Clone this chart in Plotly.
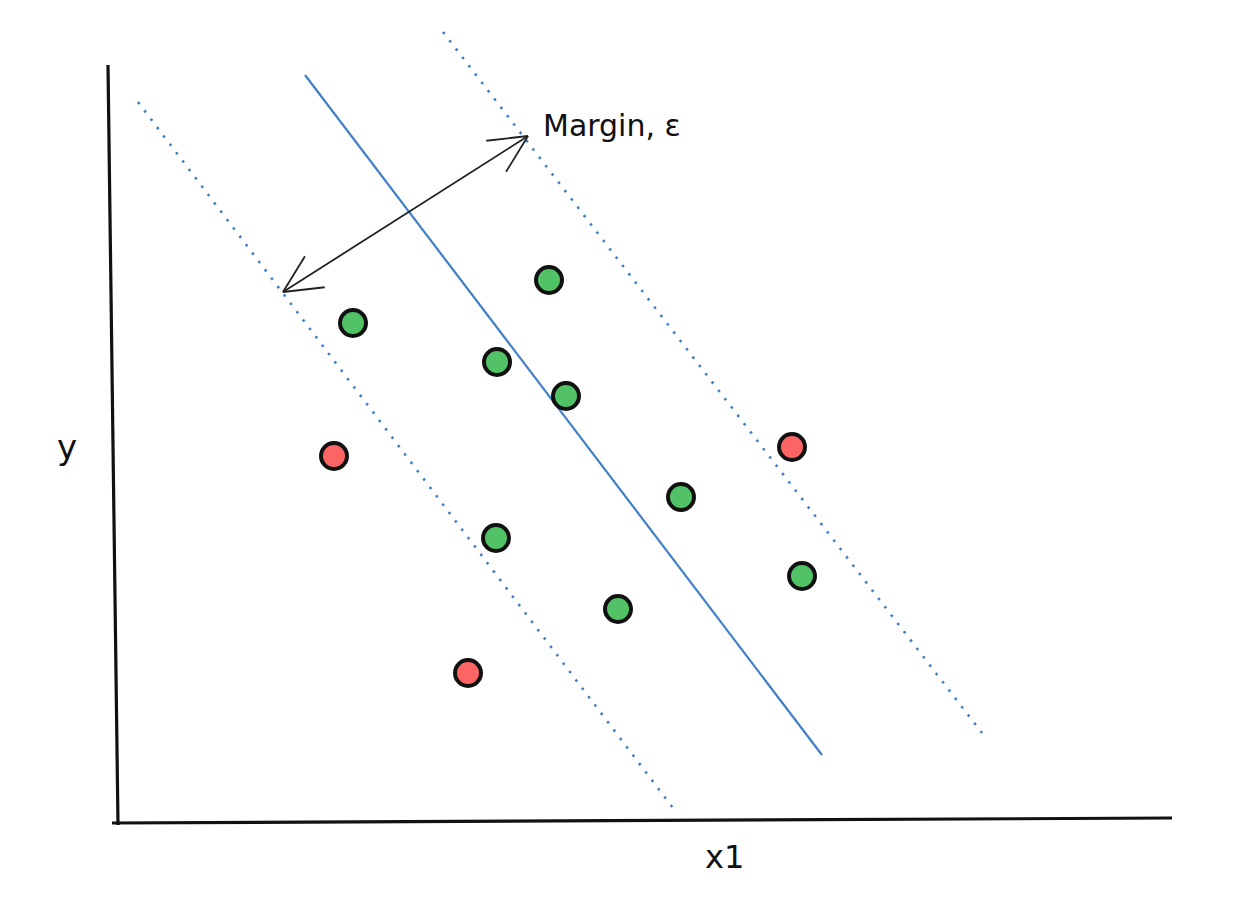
import numpy as np
import plotly.graph_objects as go

# ---- data (chart units) ----
green_x = [4.34, 2.38, 3.82, 4.51, 5.66, 3.81, 5.03, 6.87]
green_y = [5.43, 5.00, 4.61, 4.27, 3.26, 2.85, 2.14, 2.47]
red_x = [2.19, 6.77, 3.53]
red_y = [3.67, 3.76, 1.50]

hyperplane_x = [1.90, 7.07]
hyperplane_y = [7.48, 0.68]
margin_lo_x = [0.23, 5.58]
margin_lo_y = [7.21, 0.15]
margin_hi_x = [3.28, 8.67]
margin_hi_y = [7.91, 0.90]

arrow_x = [1.68, 4.13]
arrow_y = [5.31, 6.87]

yaxis_x = [-0.07, 0.03]
yaxis_y = [7.58, -0.02]
xaxis_x = [-0.03, 10.57]
xaxis_y = [0.00, 0.05]

label_margin = "Margin, ε"
label_x = "x1"
label_y = "y"

BLUE = "#3f7fc8"
GREEN = "#52c266"
RED = "#fd6464"

fig = go.Figure()

# axes drawn as lines
fig.add_trace(go.Scatter(x=yaxis_x, y=yaxis_y, mode="lines",
                         line=dict(color="#111111", width=3.2), hoverinfo="skip"))
fig.add_trace(go.Scatter(x=xaxis_x, y=xaxis_y, mode="lines",
                         line=dict(color="#111111", width=3.2), hoverinfo="skip"))

# margin lines
for mx, my in [(margin_lo_x, margin_lo_y), (margin_hi_x, margin_hi_y)]:
    fig.add_trace(go.Scatter(x=mx, y=my, mode="lines",
                             line=dict(color=BLUE, width=2.6, dash="2.5px,8px"), hoverinfo="skip"))
# hyperplane
fig.add_trace(go.Scatter(x=hyperplane_x, y=hyperplane_y, mode="lines",
                         line=dict(color=BLUE, width=2.2), hoverinfo="skip"))

# double-headed arrow
fig.add_trace(go.Scatter(x=arrow_x, y=arrow_y, mode="lines",
                         line=dict(color="#222222", width=1.8), hoverinfo="skip"))
p0 = np.array([arrow_x[0], arrow_y[0]])
p1 = np.array([arrow_x[1], arrow_y[1]])
head_len, head_ang = 0.42, np.radians(26)
hx, hy = [], []
for tip, other in [(p1, p0), (p0, p1)]:
    d = (other - tip) / np.linalg.norm(other - tip)
    for s in (1, -1):
        c, sn = np.cos(s * head_ang), np.sin(s * head_ang)
        r = np.array([c * d[0] - sn * d[1], sn * d[0] + c * d[1]])
        end = tip + head_len * r
        hx += [tip[0], end[0], None]
        hy += [tip[1], end[1], None]
fig.add_trace(go.Scatter(x=hx, y=hy, mode="lines",
                         line=dict(color="#222222", width=1.8), hoverinfo="skip"))

# points
fig.add_trace(go.Scatter(x=green_x, y=green_y, mode="markers",
                         marker=dict(size=26, color=GREEN, line=dict(color="#111111", width=4))))
fig.add_trace(go.Scatter(x=red_x, y=red_y, mode="markers",
                         marker=dict(size=26, color=RED, line=dict(color="#111111", width=4))))

fig.add_annotation(x=4.26, y=6.98, text=label_margin, showarrow=False,
                   xanchor="left", yanchor="middle",
                   font=dict(size=30, color="#111111", family="DejaVu Sans"))
fig.add_annotation(x=6.09, y=-0.34, text=label_x, showarrow=False,
                   font=dict(size=32, color="#111111", family="DejaVu Sans"))
fig.add_annotation(x=-0.48, y=3.76, text=label_y, showarrow=False,
                   font=dict(size=34, color="#111111", family="DejaVu Sans"))

fig.update_layout(
    width=1254, height=912,
    margin=dict(l=0, r=0, t=0, b=0),
    paper_bgcolor="white", plot_bgcolor="white",
    showlegend=False,
    xaxis=dict(range=[-1.07, 11.47], visible=False, fixedrange=True),
    yaxis=dict(range=[-0.97, 8.15], visible=False, fixedrange=True),
)

fig.write_html("out.html")
